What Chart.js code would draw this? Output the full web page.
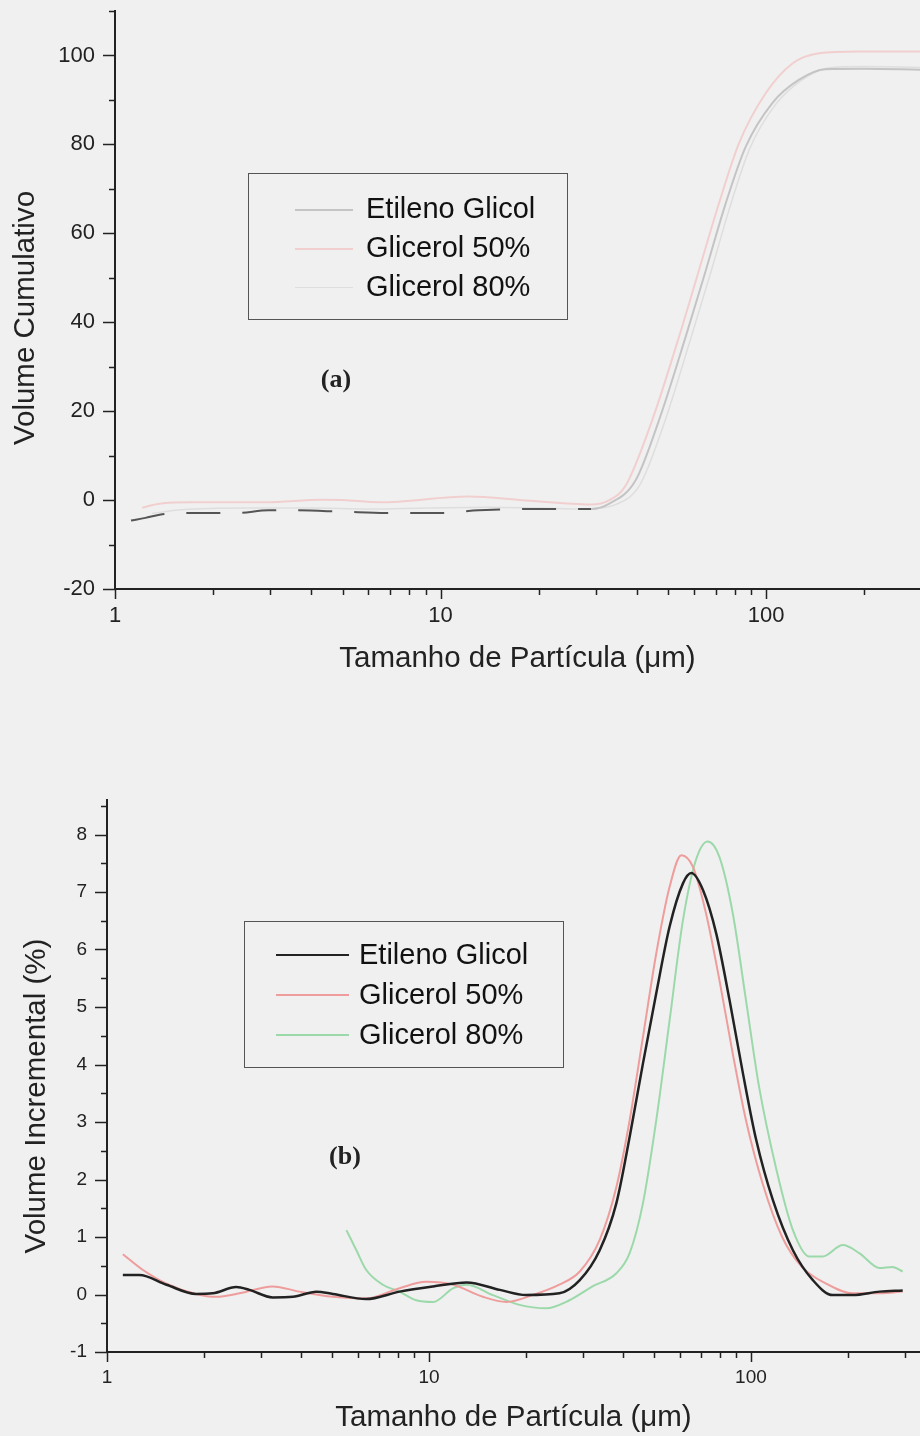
<!DOCTYPE html>
<html>
<head>
<meta charset="utf-8">
<script src="https://cdn.jsdelivr.net/npm/chart.js@4.4.1/dist/chart.umd.min.js"></script>
<style>
  html, body { margin: 0; padding: 0; background: #f0f0f0; }
  #page { position: relative; width: 920px; height: 1436px; overflow: hidden; }
  canvas { position: absolute; left: 0; }
  #cumCanvas { top: 0; }
  #incCanvas { top: 720px; }
  .legend { position: absolute; box-sizing: border-box; border: 1.5px solid #555;
            font-family: 'Liberation Sans', Arial, sans-serif; font-size: 29px; color: #111; }
  .legend .row { position: relative; white-space: nowrap; }
  .legend .sample { position: absolute; top: 50%; height: 0; }
  .legend .text { position: absolute; top: 0; }
  .tag { position: absolute; transform: translate(-50%, -50%);
         font-family: 'Liberation Serif', 'Times New Roman', serif; font-weight: bold; font-size: 26px; color: #222; }
</style>
</head>
<body>
<div id="page">
  <canvas id="cumCanvas" width="920" height="700"></canvas>
  <canvas id="incCanvas" width="920" height="716"></canvas>
  <div id="legendA" class="legend" style="left:248px; top:173px; width:320px; height:147px; padding-top:15px;"></div>
  <div id="legendB" class="legend" style="left:244px; top:921px; width:320px; height:147px; padding-top:12px;"></div>
  <div class="tag" style="left:336px; top:379px;">(a)</div>
  <div class="tag" style="left:345px; top:1156px;">(b)</div>
</div>
<script>
const SERIES = ['Etileno Glicol', 'Glicerol 50%', 'Glicerol 80%'];

// (a) volume cumulativo
const EG_CUM_X = [1.12, 1.24, 1.37, 1.54, 2.35, 2.97, 3.5, 5.0, 6.8, 9.9, 13.1, 20, 29, 33, 39.7, 46.9, 56.6, 65.3, 75.2, 86.6, 104.5, 126, 152, 200, 297];
const EG_CUM_Y = [-4.6, -4.0, -3.3, -2.9, -2.9, -2.3, -2.3, -2.6, -2.9, -2.9, -2.3, -2.0, -2.0, -0.8, 4.4, 18, 36.7, 51.7, 66.8, 79.5, 89.3, 94.5, 96.9, 97.0, 96.8];
const G50_CUM_X = [1.21, 1.37, 1.73, 2.9, 4.33, 5.0, 6.5, 12.2, 18.3, 29, 33, 37, 44.7, 54, 62.2, 71.7, 82.6, 99.7, 120.5, 145.5, 193, 297];
const G50_CUM_Y = [-1.7, -0.8, -0.5, -0.5, 0.1, 0.0, -0.5, 0.8, -0.1, -1.0, 0.0, 3.2, 18, 36.7, 51.7, 66.8, 80.3, 91.5, 98.2, 100.5, 100.9, 100.9];
const G80_CUM_X = [1.3, 1.6, 2.5, 4.0, 6.0, 9.0, 14, 20, 28, 34, 41, 48.5, 58.5, 67.5, 77.5, 89, 107, 129, 155, 200, 297];
const G80_CUM_Y = [-3.0, -2.2, -1.8, -1.8, -2.0, -1.8, -1.6, -1.8, -2.0, -1.2, 3.5, 17, 36, 51, 66, 79, 89, 94.5, 97.2, 97.5, 97.3];

// (b) volume incremental (%)
const EG_INC_X = [1.12, 1.26, 1.53, 1.89, 2.13, 2.52, 2.77, 3.27, 3.78, 4.47, 5.03, 6.38, 8.1, 10.3, 13.1, 16.6, 20, 25.4, 29.4, 33.9, 38.2, 42, 46.2, 50.8, 55.9, 61.5, 65.3, 71, 78, 85.8, 94.4, 103.8, 117, 135, 155.7, 179.5, 207, 251, 296];
const EG_INC_Y = [0.34, 0.34, 0.17, 0.01, 0.02, 0.13, 0.08, -0.05, -0.04, 0.05, 0.01, -0.08, 0.05, 0.14, 0.21, 0.08, -0.01, 0.02, 0.25, 0.77, 1.59, 2.74, 4.02, 5.24, 6.40, 7.15, 7.33, 7.03, 6.28, 5.12, 3.85, 2.69, 1.64, 0.77, 0.25, -0.01, -0.01, 0.05, 0.07];
const G50_INC_X = [1.12, 1.29, 1.53, 1.89, 2.18, 2.58, 3.27, 3.96, 5.03, 6.38, 8.1, 9.8, 11.9, 14.7, 17.4, 21, 25.4, 29.4, 33.9, 38.2, 42, 46.2, 50.8, 55.9, 60.8, 66, 72.5, 79.8, 87.8, 96.5, 108.7, 125, 144, 171, 207, 251, 296];
const G50_INC_Y = [0.70, 0.43, 0.19, 0.01, -0.04, 0.02, 0.14, 0.05, -0.04, -0.07, 0.11, 0.22, 0.17, -0.04, -0.13, -0.01, 0.17, 0.40, 0.95, 1.87, 3.03, 4.48, 5.93, 7.09, 7.64, 7.44, 6.63, 5.47, 4.19, 3.03, 1.93, 1.0, 0.48, 0.19, 0.02, 0.02, 0.05];
const G80_INC_X = [5.54, 5.95, 6.38, 7.19, 8.1, 9.13, 10.3, 11.9, 13.1, 15.8, 19.1, 23.1, 27.3, 32.2, 38.2, 42, 46.2, 50.8, 55.9, 61.5, 67.5, 73.4, 79.8, 87.8, 96.5, 106, 120, 135, 152, 167, 193, 217, 251, 275, 296];
const G80_INC_Y = [1.12, 0.77, 0.43, 0.17, 0.05, -0.10, -0.13, 0.11, 0.17, -0.01, -0.18, -0.24, -0.1, 0.14, 0.37, 0.72, 1.59, 3.03, 4.77, 6.51, 7.56, 7.88, 7.61, 6.63, 5.12, 3.61, 2.17, 1.12, 0.66, 0.66, 0.86, 0.72, 0.46, 0.48, 0.40];

// ticks
const X_TICKS = [1, 2, 3, 4, 5, 6, 7, 8, 9, 10, 20, 30, 40, 50, 60, 70, 80, 90, 100, 200, 300];
const X_LABELS = [1, 10, 100];
const CUM_Y_TICKS = [-20, -10, 0, 10, 20, 30, 40, 50, 60, 70, 80, 90, 100, 110];
const CUM_Y_LABELS = [-20, 0, 20, 40, 60, 80, 100];
const INC_Y_TICKS = [-1, -0.5, 0, 0.5, 1, 1.5, 2, 2.5, 3, 3.5, 4, 4.5, 5, 5.5, 6, 6.5, 7, 7.5, 8, 8.5];
const INC_Y_LABELS = [-1, 0, 1, 2, 3, 4, 5, 6, 7, 8];

const pts = (xs, ys) => xs.map((x, i) => ({ x: x, y: ys[i] }));
const FONT = "'Liberation Sans', Arial, sans-serif";

// tick marks (major long, minor short) and the rotated y title
function axisDecor(yMajor, yTitle, titleX, titleDy) {
  return {
    id: 'axisDecor',
    afterDraw(chart) {
      const { ctx, chartArea } = chart;
      const xs = chart.scales.x, ys = chart.scales.y;
      ctx.save();
      ctx.strokeStyle = '#222';
      ctx.lineWidth = 1.5;
      ctx.beginPath();
      xs.ticks.forEach(t => {
        const px = Math.round(xs.getPixelForValue(t.value)) + 0.5;
        const len = X_LABELS.includes(t.value) ? 10 : 6;
        ctx.moveTo(px, chartArea.bottom);
        ctx.lineTo(px, chartArea.bottom + len);
      });
      ys.ticks.forEach(t => {
        const py = Math.round(ys.getPixelForValue(t.value)) + 0.5;
        const len = yMajor.includes(t.value) ? 12 : 6;
        ctx.moveTo(chartArea.left, py);
        ctx.lineTo(chartArea.left - len, py);
      });
      ctx.stroke();

      ctx.translate(titleX, (chartArea.top + chartArea.bottom) / 2 + titleDy);
      ctx.rotate(-Math.PI / 2);
      ctx.fillStyle = '#222';
      ctx.font = '29.5px ' + FONT;
      ctx.textAlign = 'center';
      ctx.textBaseline = 'middle';
      ctx.fillText(yTitle, 0, 0);
      ctx.restore();
    }
  };
}

function scales(o) {
  return {
    x: {
      type: 'logarithmic', min: 1, max: o.xMax,
      border: { display: true, color: '#222', width: 2 },
      grid: { display: false, drawTicks: false },
      ticks: {
        autoSkip: false, maxRotation: 0, padding: o.xPad, color: '#222',
        font: { family: FONT, size: o.tickSize },
        callback: v => X_LABELS.includes(v) ? String(v) : ''
      },
      afterBuildTicks: s => { s.ticks = X_TICKS.map(v => ({ value: v })); },
      afterFit: s => { s.height = o.xHeight; s.paddingLeft = 0; s.paddingRight = 0; },
      title: {
        display: true, text: 'Tamanho de Partícula (μm)', color: '#222',
        font: { family: FONT, size: 29.5 }, padding: { top: 0, bottom: o.xTitlePad }
      }
    },
    y: {
      min: o.yMin, max: o.yMax,
      border: { display: true, color: '#222', width: 2 },
      grid: { display: false, drawTicks: false },
      ticks: {
        autoSkip: false, padding: o.yPad, color: '#222',
        font: { family: FONT, size: o.tickSize },
        callback: v => o.yLabels.includes(v) ? String(v) : ''
      },
      afterBuildTicks: s => { s.ticks = o.yTicks.map(v => ({ value: v })); },
      afterFit: s => { s.width = o.yWidth; s.paddingTop = 0; s.paddingBottom = 0; }
    }
  };
}

const lineBase = { pointRadius: 0, fill: false, cubicInterpolationMode: 'monotone' };

const cumChart = new Chart(document.getElementById('cumCanvas'), {
  type: 'line',
  data: {
    datasets: [
      Object.assign({}, lineBase, {
        label: SERIES[0], data: pts(EG_CUM_X, EG_CUM_Y), borderColor: '#c4c4c4', borderWidth: 2,
        segment: {
          borderColor: c => c.p1.parsed.x < 30 ? '#555' : undefined,
          borderDash: c => c.p1.parsed.x < 30 ? [34, 22] : undefined
        }
      }),
      Object.assign({}, lineBase, { label: SERIES[1], data: pts(G50_CUM_X, G50_CUM_Y), borderColor: '#f2cfcf', borderWidth: 2 }),
      Object.assign({}, lineBase, { label: SERIES[2], data: pts(G80_CUM_X, G80_CUM_Y), borderColor: '#dedede', borderWidth: 1.5 })
    ]
  },
  options: {
    responsive: false, animation: false, devicePixelRatio: 1,
    layout: { padding: { top: 11, right: 0, left: 0, bottom: 0 } },
    plugins: { legend: { display: false }, tooltip: { enabled: false } },
    scales: scales({
      xMax: 297, xHeight: 111, xPad: 14, xTitlePad: 23, tickSize: 22,
      yMin: -20, yMax: 110, yTicks: CUM_Y_TICKS, yLabels: CUM_Y_LABELS,
      yWidth: 115, yPad: 20
    })
  },
  plugins: [axisDecor(CUM_Y_LABELS, 'Volume Cumulativo', 26, 18)]
});

const incChart = new Chart(document.getElementById('incCanvas'), {
  type: 'line',
  data: {
    datasets: [
      Object.assign({}, lineBase, { label: SERIES[0], data: pts(EG_INC_X, EG_INC_Y), borderColor: '#222', borderWidth: 2.5 }),
      Object.assign({}, lineBase, { label: SERIES[1], data: pts(G50_INC_X, G50_INC_Y), borderColor: '#ef9c9c', borderWidth: 2 }),
      Object.assign({}, lineBase, { label: SERIES[2], data: pts(G80_INC_X, G80_INC_Y), borderColor: '#9cd9aa', borderWidth: 2 })
    ]
  },
  options: {
    responsive: false, animation: false, devicePixelRatio: 1,
    layout: { padding: { top: 80, right: 0, left: 0, bottom: 0 } },
    plugins: { legend: { display: false }, tooltip: { enabled: false } },
    scales: scales({
      xMax: 335, xHeight: 84, xPad: 14, xTitlePad: 0, tickSize: 19,
      yMin: -1, yMax: 8.6, yTicks: INC_Y_TICKS, yLabels: INC_Y_LABELS,
      yWidth: 107, yPad: 20
    })
  },
  plugins: [axisDecor(INC_Y_LABELS, 'Volume Incremental (%)', 37, 20)]
});

// legends built from the chart datasets
function buildLegend(chart, el, o) {
  chart.data.datasets.forEach(ds => {
    const row = document.createElement('div');
    row.className = 'row';
    row.style.height = o.rowH + 'px';
    row.style.lineHeight = o.rowH + 'px';
    const sample = document.createElement('span');
    sample.className = 'sample';
    sample.style.left = o.sampleLeft + 'px';
    sample.style.width = o.sampleW + 'px';
    sample.style.borderTop = ds.borderWidth + 'px solid ' + ds.borderColor;
    const text = document.createElement('span');
    text.className = 'text';
    text.style.left = o.textLeft + 'px';
    text.textContent = ds.label;
    row.appendChild(sample);
    row.appendChild(text);
    el.appendChild(row);
  });
}
buildLegend(cumChart, document.getElementById('legendA'), { rowH: 39, sampleLeft: 46, sampleW: 58, textLeft: 117 });
buildLegend(incChart, document.getElementById('legendB'), { rowH: 40, sampleLeft: 31, sampleW: 73, textLeft: 114 });
</script>
</body>
</html>
